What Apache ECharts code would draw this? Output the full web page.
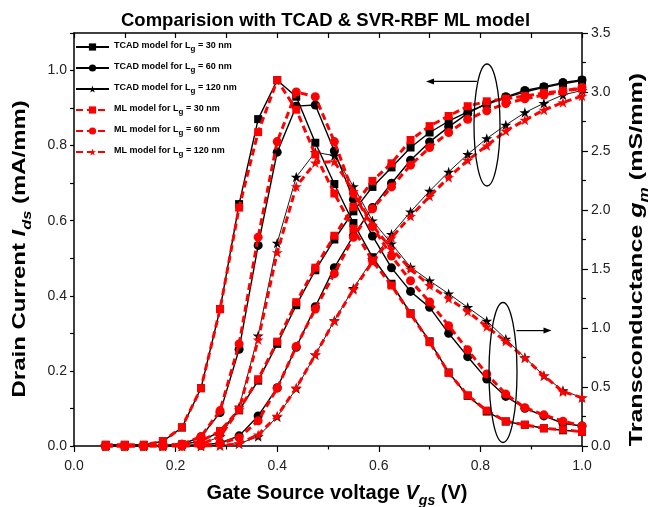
<!DOCTYPE html>
<html><head><meta charset="utf-8">
<script src="https://cdn.jsdelivr.net/npm/echarts@6/dist/echarts.min.js"></script>
<style>html,body{margin:0;padding:0;background:#fff}#c{width:651px;height:507px}</style>
</head><body><div id="c"></div>
<script>
// Gate-source voltage (V)
const voltage = [0.0625,0.1,0.1375,0.175,0.2125,0.25,0.2875,0.325,0.3625,0.4,0.4375,0.475,0.5125,0.55,0.5875,0.625,0.6625,0.7,0.7375,0.775,0.8125,0.85,0.8875,0.925,0.9625,1.0];

// Drain current Ids (mA/mm)
const idsTcad30 = [0,0,0,0.001,0.004,0.013,0.038,0.095,0.174,0.272,0.375,0.468,0.55,0.625,0.69,0.742,0.795,0.835,0.865,0.89,0.91,0.928,0.943,0.955,0.965,0.973];
const idsTcad60 = [0,0,0,0,0,0.002,0.008,0.027,0.08,0.155,0.263,0.371,0.475,0.56,0.635,0.70,0.761,0.81,0.85,0.886,0.913,0.93,0.947,0.957,0.968,0.975];
const idsTcad120 = [0,0,0,0,0,0,0.001,0.006,0.025,0.078,0.153,0.243,0.334,0.42,0.496,0.564,0.624,0.679,0.73,0.777,0.819,0.855,0.888,0.913,0.935,0.947];
const idsMl30 = [0,0,0,0.001,0.004,0.013,0.04,0.097,0.178,0.278,0.383,0.475,0.56,0.637,0.706,0.753,0.815,0.852,0.879,0.905,0.918,0.925,0.932,0.94,0.946,0.952];
const idsMl60 = [0,0,0,0,0,0.002,0.007,0.022,0.067,0.154,0.265,0.365,0.459,0.556,0.632,0.69,0.748,0.795,0.835,0.87,0.893,0.912,0.925,0.935,0.945,0.955];
const idsMl120 = [0,0,0,0,0,0,0.001,0.006,0.03,0.08,0.155,0.243,0.333,0.417,0.49,0.555,0.612,0.665,0.715,0.761,0.80,0.839,0.868,0.895,0.915,0.932];

// Transconductance gm (mS/mm)
const gmTcad30 = [0.01,0.01,0.01,0.04,0.156,0.49,1.16,2.05,2.77,3.1,2.96,2.57,2.22,1.89,1.60,1.375,1.125,0.887,0.623,0.425,0.292,0.207,0.18,0.15,0.133,0.12];
const gmTcad60 = [0,0,0,0.005,0.015,0.077,0.283,0.82,1.70,2.49,2.88,2.89,2.5,2.09,1.78,1.51,1.31,1.175,0.955,0.757,0.567,0.42,0.32,0.255,0.193,0.17];
const gmTcad120 = [0,0,0,0,0.005,0.015,0.08,0.33,0.935,1.72,2.28,2.49,2.46,2.2,1.91,1.715,1.516,1.40,1.29,1.175,1.06,0.907,0.75,0.595,0.47,0.41];
const gmMl30 = [0.01,0.01,0.01,0.04,0.16,0.49,1.16,2.02,2.66,3.1,2.85,2.47,2.14,1.84,1.57,1.36,1.12,0.88,0.62,0.43,0.3,0.21,0.18,0.15,0.138,0.12];
const gmMl60 = [0,0,0,0.005,0.015,0.08,0.3,0.865,1.77,2.58,3.0,2.96,2.58,2.14,1.86,1.61,1.40,1.22,1.02,0.815,0.61,0.44,0.325,0.264,0.21,0.17];
const gmMl120 = [0,0,0,0,0.005,0.015,0.08,0.31,0.90,1.64,2.20,2.40,2.41,2.16,1.87,1.67,1.50,1.36,1.25,1.14,1.01,0.887,0.745,0.595,0.46,0.41];

const xTicks = [0, 1.0, 0.2];    // min, max, step
const idsTicks = [0, 1.1, 0.1];
const gmTicks = [0, 3.5, 0.5];

const seriesNames = ['TCAD model for Lg = 30 nm','TCAD model for Lg = 60 nm','TCAD model for Lg = 120 nm',
                     'ML model for Lg = 30 nm','ML model for Lg = 60 nm','ML model for Lg = 120 nm'];

const FONT = '"Liberation Sans", Arial, sans-serif';
const STAR = 'path://M50,0L61.2,34.5L97.6,34.5L68.2,55.9L79.4,90.5L50,69.1L20.6,90.5L31.8,55.9L2.4,34.5L38.8,34.5Z';
const symbols = [['rect', 8], ['circle', 9], [STAR, 11]];

function mk(nameIdx, yIdx, vals) {
  const ml = nameIdx >= 3;
  const k = nameIdx % 3;
  const color = ml ? '#ff0000' : '#000000';
  return {
    name: seriesNames[nameIdx], type: 'line', xAxisIndex: 0, yAxisIndex: yIdx,
    data: voltage.map((v, i) => [v, vals[i]]),
    symbol: symbols[k][0], symbolSize: symbols[k][1], symbolKeepAspect: true,
    showAllSymbol: true,
    lineStyle: { color, width: ml ? 3 : (k === 2 ? 0.9 : 1.4), type: ml ? [7, 4] : 'solid' },
    itemStyle: { color, borderWidth: 0 },
    emphasis: { disabled: true },
    z: ml ? 3 : 2
  };
}

const series = [
  mk(0, 0, idsTcad30), mk(1, 0, idsTcad60), mk(2, 0, idsTcad120),
  mk(0, 1, gmTcad30), mk(1, 1, gmTcad60), mk(2, 1, gmTcad120),
  mk(3, 0, idsMl30), mk(4, 0, idsMl60), mk(5, 0, idsMl120),
  mk(3, 1, gmMl30), mk(4, 1, gmMl60), mk(5, 1, gmMl120)
];

const axisLine = { show: true, onZero: false, lineStyle: { color: '#000', width: 1.5 } };
const tickStyle = { color: '#000', width: 1.2 };
const labelStyle = { fontSize: 14, color: '#222', fontFamily: FONT };
const nameRich = (size) => ({
  b: { fontSize: size, fontWeight: 'bold', fontFamily: FONT, color: '#000', verticalAlign: 'bottom', padding: [0, 0, 5, 0] },
  i: { fontSize: size, fontWeight: 'bold', fontStyle: 'italic', fontFamily: FONT, color: '#000', verticalAlign: 'bottom', padding: [0, 0, 5, 0] },
  s: { fontSize: Math.round(size * 0.7), fontWeight: 'bold', fontStyle: 'italic', fontFamily: FONT, color: '#000', verticalAlign: 'bottom' }
});

const chart = echarts.init(document.getElementById('c'));
chart.setOption({
  animation: false,
  backgroundColor: '#fff',
  title: {
    text: 'Comparision with TCAD & SVR-RBF ML model', left: 'center', top: 6, padding: [5, 0, 5, 10],
    textStyle: { fontSize: 18.5, fontWeight: 'bold', fontFamily: FONT, color: '#000' }
  },
  grid: { left: 74, right: 69, top: 33, bottom: 61, containLabel: false, outerBoundsMode: 'none' },
  legend: {
    data: seriesNames, orient: 'vertical', left: 75, top: 41, padding: 0,
    itemWidth: 33, itemHeight: 9, itemGap: 9,
    formatter: (n) => { const p = n.split('Lg'); return '{t|' + p[0] + 'L}{s|g}{t|' + p[1] + '}'; },
    textStyle: {
      rich: {
        t: { fontSize: 9, fontWeight: 'bold', fontFamily: FONT, color: '#000', verticalAlign: 'bottom', padding: [0, 0, 3, 0] },
        s: { fontSize: 8, fontWeight: 'bold', fontFamily: FONT, color: '#000', verticalAlign: 'bottom' }
      }
    }
  },
  xAxis: [
    {
      type: 'value', position: 'bottom', min: xTicks[0], max: xTicks[1], interval: xTicks[2],
      axisLine, axisTick: { length: 6, lineStyle: tickStyle },
      minorTick: { show: true, splitNumber: 2, length: 3.5, lineStyle: tickStyle },
      splitLine: { show: false }, minorSplitLine: { show: false },
      axisLabel: Object.assign({ margin: 13, formatter: (v) => v.toFixed(1) }, labelStyle),
      name: '{b|Gate Source voltage }{i|V}{s|gs}{b| (V)}', nameLocation: 'middle', nameGap: 37,
      nameTextStyle: { rich: nameRich(20), padding: [0, 0, 0, 18] }
    },
    {
      type: 'value', position: 'top', min: xTicks[0], max: xTicks[1], interval: xTicks[2],
      axisLine, axisTick: { inside: true, length: 5, lineStyle: tickStyle },
      minorTick: { show: true, splitNumber: 2, length: 5, lineStyle: tickStyle },
      splitLine: { show: false }, axisLabel: { show: false }
    }
  ],
  yAxis: [
    {
      type: 'value', position: 'left', min: idsTicks[0], max: idsTicks[1], interval: idsTicks[2],
      axisLine, axisTick: { length: 4, lineStyle: tickStyle },
      splitLine: { show: false },
      axisLabel: Object.assign({ margin: 7, formatter: (v) => (Math.round(v * 10) % 2 === 0 ? v.toFixed(1) : '') }, labelStyle)
    },
    {
      type: 'value', position: 'right', min: gmTicks[0], max: gmTicks[1], interval: gmTicks[2],
      axisLine, axisTick: { length: 6, lineStyle: tickStyle },
      minorTick: { show: true, splitNumber: 2, length: 4, lineStyle: tickStyle },
      splitLine: { show: false }, minorSplitLine: { show: false },
      axisLabel: Object.assign({ margin: 9, formatter: (v) => v.toFixed(1) }, labelStyle)
    }
  ],
  series
});

// Annotations (ellipses + arrows) and vertical axis titles, anchored via the axes
const idsPt = (x, y) => chart.convertToPixel({ xAxisIndex: 0, yAxisIndex: 0 }, [x, y]);
const gmPt = (x, y) => chart.convertToPixel({ xAxisIndex: 0, yAxisIndex: 1 }, [x, y]);
const e1 = idsPt(0.813, 0.855);
const a1s = idsPt(0.793, 0.971), a1e = idsPt(0.693, 0.971);
const e2 = gmPt(0.8445, 0.623);
const a2s = gmPt(0.871, 0.978), a2e = gmPt(0.94, 0.978);
const stroke = { stroke: '#000', lineWidth: 1.3, fill: null };
function arrow(s, e, dir) {
  const h = 8, w = 3;
  return [
    { type: 'line', shape: { x1: s[0], y1: s[1], x2: e[0] - dir * h * 0.6, y2: e[1] }, style: { stroke: '#000', lineWidth: 1.2 }, z: 10 },
    { type: 'polygon', shape: { points: [[e[0], e[1]], [e[0] - dir * h, e[1] - w], [e[0] - dir * h, e[1] + w]] }, style: { fill: '#000' }, z: 10 }
  ];
}
const leftCenter = idsPt(0, 0.525);
const rightCenter = gmPt(1, 1.58);
const richName = nameRich(19);
chart.setOption({
  graphic: [
    { type: 'ellipse', shape: { cx: e1[0], cy: e1[1], rx: 13, ry: 61 }, style: stroke, z: 10 },
    { type: 'ellipse', shape: { cx: e2[0], cy: e2[1], rx: 14, ry: 70 }, style: stroke, z: 10 },
    ...arrow(a1s, a1e, -1),
    ...arrow(a2s, a2e, 1),
    { type: 'text', x: leftCenter[0] - 52, y: leftCenter[1], rotation: Math.PI / 2, scaleX: 1.26,
      style: { text: '{b|Drain Current }{i|I}{s|ds}{b| (mA/mm)}', rich: richName, align: 'center', verticalAlign: 'middle' }, z: 10 },
    { type: 'text', x: rightCenter[0] + 57, y: rightCenter[1], rotation: Math.PI / 2, scaleX: 1.32,
      style: { text: '{b|Transconductance }{i|g}{s|m}{b| (mS/mm)}', rich: richName, align: 'center', verticalAlign: 'middle' }, z: 10 }
  ]
});
</script></body></html>
